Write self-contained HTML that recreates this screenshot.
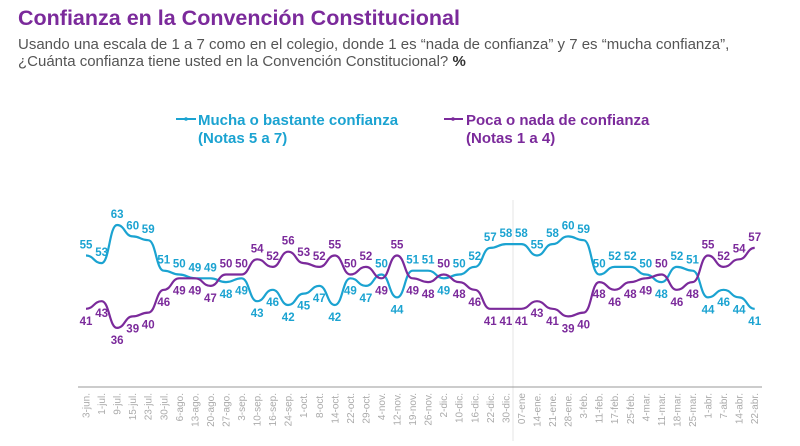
<!DOCTYPE html>
<html><head><meta charset="utf-8"><style>
body{margin:0;background:#fff;width:800px;height:441px;overflow:hidden;font-family:"Liberation Sans",sans-serif}
</style></head><body>
<svg width="800" height="441" xmlns="http://www.w3.org/2000/svg" font-family="Liberation Sans, sans-serif">
<text x="18" y="25" font-size="21.5" font-weight="bold" fill="#7B2A9B">Confianza en la Convención Constitucional</text>
<text x="18" y="49" font-size="15" fill="#555">Usando una escala de 1 a 7 como en el colegio, donde 1 es “nada de confianza” y 7 es “mucha confianza”,</text>
<text x="18" y="66" font-size="15" fill="#555">¿Cuánta confianza tiene usted en la Convención Constitucional? <tspan font-weight="bold" fill="#333">%</tspan></text>

<line x1="176" y1="119" x2="196" y2="119" stroke="#1BA3D1" stroke-width="2"/><circle cx="186" cy="119" r="1.8" fill="#1BA3D1"/>
<text x="198" y="125" font-size="15" font-weight="bold" fill="#1BA3D1">Mucha o bastante confianza</text>
<text x="198" y="143" font-size="15" font-weight="bold" fill="#1BA3D1">(Notas 5 a 7)</text>
<line x1="444" y1="119" x2="463" y2="119" stroke="#7B2A9B" stroke-width="2"/><circle cx="453" cy="119" r="1.8" fill="#7B2A9B"/>
<text x="466" y="125" font-size="15" font-weight="bold" fill="#7B2A9B">Poca o nada de confianza</text>
<text x="466" y="143" font-size="15" font-weight="bold" fill="#7B2A9B">(Notas 1 a 4)</text>

<line x1="513" y1="200" x2="513" y2="441" stroke="#e4e4e4" stroke-width="1"/>
<line x1="78" y1="387" x2="762" y2="387" stroke="#999" stroke-width="1"/>

<path fill="none" stroke="#1BA3D1" stroke-width="2.2" d="M86,255.5 C93.8,255.5 93.8,263.1 101.6,263.1 S109.3,225 117.1,225 S124.9,236.4 132.7,236.4 S140.4,240.2 148.2,240.2 S156,270.7 163.8,270.7 S171.5,274.5 179.3,274.5 S187.1,278.3 194.9,278.3 S202.6,278.3 210.4,278.3 S218.2,282.1 226,282.1 S233.7,278.3 241.5,278.3 S249.3,301.2 257.1,301.2 S264.8,289.8 272.6,289.8 S280.4,305 288.2,305 S295.9,293.6 303.7,293.6 S311.5,285.9 319.3,285.9 S327,305 334.8,305 S342.6,278.3 350.4,278.3 S358.1,285.9 365.9,285.9 S373.7,274.5 381.5,274.5 S389.2,297.4 397,297.4 S404.8,270.7 412.6,270.7 S420.3,270.7 428.1,270.7 S435.9,278.3 443.7,278.3 S451.4,274.5 459.2,274.5 S467,266.9 474.8,266.9 S482.5,247.9 490.3,247.9 S498.1,244.1 505.9,244.1 S513.6,244.1 521.4,244.1 S529.2,255.5 537,255.5 S544.7,244.1 552.5,244.1 S560.3,236.4 568.1,236.4 S575.8,240.2 583.6,240.2 S591.4,274.5 599.2,274.5 S606.9,266.9 614.7,266.9 S622.5,266.9 630.3,266.9 S638,274.5 645.8,274.5 S653.6,282.1 661.4,282.1 S669.1,266.9 676.9,266.9 S684.7,270.7 692.5,270.7 S700.2,297.4 708,297.4 S715.8,289.8 723.6,289.8 S731.3,297.4 739.1,297.4 S746.9,308.8 754.7,308.8"/>
<path fill="none" stroke="#7B2A9B" stroke-width="2.2" d="M86,308.8 C93.8,308.8 93.8,301.2 101.6,301.2 S109.3,327.9 117.1,327.9 S124.9,316.4 132.7,316.4 S140.4,312.6 148.2,312.6 S156,289.8 163.8,289.8 S171.5,278.3 179.3,278.3 S187.1,278.3 194.9,278.3 S202.6,285.9 210.4,285.9 S218.2,274.5 226,274.5 S233.7,274.5 241.5,274.5 S249.3,259.3 257.1,259.3 S264.8,266.9 272.6,266.9 S280.4,251.7 288.2,251.7 S295.9,263.1 303.7,263.1 S311.5,266.9 319.3,266.9 S327,255.5 334.8,255.5 S342.6,274.5 350.4,274.5 S358.1,266.9 365.9,266.9 S373.7,278.3 381.5,278.3 S389.2,255.5 397,255.5 S404.8,278.3 412.6,278.3 S420.3,282.1 428.1,282.1 S435.9,274.5 443.7,274.5 S451.4,282.1 459.2,282.1 S467,289.8 474.8,289.8 S482.5,308.8 490.3,308.8 S498.1,308.8 505.9,308.8 S513.6,308.8 521.4,308.8 S529.2,301.2 537,301.2 S544.7,308.8 552.5,308.8 S560.3,316.4 568.1,316.4 S575.8,312.6 583.6,312.6 S591.4,282.1 599.2,282.1 S606.9,289.8 614.7,289.8 S622.5,282.1 630.3,282.1 S638,278.3 645.8,278.3 S653.6,274.5 661.4,274.5 S669.1,289.8 676.9,289.8 S684.7,282.1 692.5,282.1 S700.2,255.5 708,255.5 S715.8,266.9 723.6,266.9 S731.3,259.3 739.1,259.3 S746.9,247.9 754.7,247.9"/>

<g font-size="11.5" font-weight="bold" text-anchor="middle" fill="#1BA3D1">
<text x="86" y="248.5">55</text><text x="101.6" y="256.1">53</text><text x="117.1" y="218">63</text><text x="132.7" y="229.4">60</text><text x="148.2" y="233.2">59</text><text x="163.8" y="263.7">51</text><text x="179.3" y="267.5">50</text><text x="194.9" y="271.3">49</text><text x="210.4" y="271.3">49</text><text x="226" y="298.1">48</text><text x="241.5" y="294.3">49</text><text x="257.1" y="317.2">43</text><text x="272.6" y="305.8">46</text><text x="288.2" y="321">42</text><text x="303.7" y="309.6">45</text><text x="319.3" y="301.9">47</text><text x="334.8" y="321">42</text><text x="350.4" y="294.3">49</text><text x="365.9" y="301.9">47</text><text x="381.5" y="267.5">50</text><text x="397" y="313.4">44</text><text x="412.6" y="263.7">51</text><text x="428.1" y="263.7">51</text><text x="443.7" y="294.3">49</text><text x="459.2" y="267.5">50</text><text x="474.8" y="259.9">52</text><text x="490.3" y="240.9">57</text><text x="505.9" y="237.1">58</text><text x="521.4" y="237.1">58</text><text x="537" y="248.5">55</text><text x="552.5" y="237.1">58</text><text x="568.1" y="229.4">60</text><text x="583.6" y="233.2">59</text><text x="599.2" y="267.5">50</text><text x="614.7" y="259.9">52</text><text x="630.3" y="259.9">52</text><text x="645.8" y="267.5">50</text><text x="661.4" y="298.1">48</text><text x="676.9" y="259.9">52</text><text x="692.5" y="263.7">51</text><text x="708" y="313.4">44</text><text x="723.6" y="305.8">46</text><text x="739.1" y="313.4">44</text><text x="754.7" y="324.8">41</text>
</g>
<g font-size="11.5" font-weight="bold" text-anchor="middle" fill="#7B2A9B">
<text x="86" y="324.8">41</text><text x="101.6" y="317.2">43</text><text x="117.1" y="343.9">36</text><text x="132.7" y="332.4">39</text><text x="148.2" y="328.6">40</text><text x="163.8" y="305.8">46</text><text x="179.3" y="294.3">49</text><text x="194.9" y="294.3">49</text><text x="210.4" y="301.9">47</text><text x="226" y="267.5">50</text><text x="241.5" y="267.5">50</text><text x="257.1" y="252.3">54</text><text x="272.6" y="259.9">52</text><text x="288.2" y="244.7">56</text><text x="303.7" y="256.1">53</text><text x="319.3" y="259.9">52</text><text x="334.8" y="248.5">55</text><text x="350.4" y="267.5">50</text><text x="365.9" y="259.9">52</text><text x="381.5" y="294.3">49</text><text x="397" y="248.5">55</text><text x="412.6" y="294.3">49</text><text x="428.1" y="298.1">48</text><text x="443.7" y="267.5">50</text><text x="459.2" y="298.1">48</text><text x="474.8" y="305.8">46</text><text x="490.3" y="324.8">41</text><text x="505.9" y="324.8">41</text><text x="521.4" y="324.8">41</text><text x="537" y="317.2">43</text><text x="552.5" y="324.8">41</text><text x="568.1" y="332.4">39</text><text x="583.6" y="328.6">40</text><text x="599.2" y="298.1">48</text><text x="614.7" y="305.8">46</text><text x="630.3" y="298.1">48</text><text x="645.8" y="294.3">49</text><text x="661.4" y="267.5">50</text><text x="676.9" y="305.8">46</text><text x="692.5" y="298.1">48</text><text x="708" y="248.5">55</text><text x="723.6" y="259.9">52</text><text x="739.1" y="252.3">54</text><text x="754.7" y="240.9">57</text>
</g>

<g font-size="10" fill="#aaa" text-anchor="end">
<text transform="translate(89.5,393) rotate(-90)">3-jun.</text>
<text transform="translate(105.1,393) rotate(-90)">1-jul.</text>
<text transform="translate(120.6,393) rotate(-90)">9-jul.</text>
<text transform="translate(136.2,393) rotate(-90)">15-jul.</text>
<text transform="translate(151.7,393) rotate(-90)">23-jul.</text>
<text transform="translate(167.3,393) rotate(-90)">30-jul.</text>
<text transform="translate(182.8,393) rotate(-90)">6-ago.</text>
<text transform="translate(198.4,393) rotate(-90)">13-ago.</text>
<text transform="translate(213.9,393) rotate(-90)">20-ago.</text>
<text transform="translate(229.5,393) rotate(-90)">27-ago.</text>
<text transform="translate(245,393) rotate(-90)">3-sep.</text>
<text transform="translate(260.6,393) rotate(-90)">10-sep.</text>
<text transform="translate(276.1,393) rotate(-90)">16-sep.</text>
<text transform="translate(291.7,393) rotate(-90)">24-sep.</text>
<text transform="translate(307.2,393) rotate(-90)">1-oct.</text>
<text transform="translate(322.8,393) rotate(-90)">8-oct.</text>
<text transform="translate(338.3,393) rotate(-90)">14-oct.</text>
<text transform="translate(353.9,393) rotate(-90)">22-oct.</text>
<text transform="translate(369.4,393) rotate(-90)">29-oct.</text>
<text transform="translate(385,393) rotate(-90)">4-nov.</text>
<text transform="translate(400.5,393) rotate(-90)">12-nov.</text>
<text transform="translate(416.1,393) rotate(-90)">19-nov.</text>
<text transform="translate(431.6,393) rotate(-90)">26-nov.</text>
<text transform="translate(447.2,393) rotate(-90)">2-dic.</text>
<text transform="translate(462.7,393) rotate(-90)">10-dic.</text>
<text transform="translate(478.3,393) rotate(-90)">16-dic.</text>
<text transform="translate(493.8,393) rotate(-90)">22-dic.</text>
<text transform="translate(509.4,393) rotate(-90)">30-dic.</text>
<text transform="translate(524.9,393) rotate(-90)">07-ene</text>
<text transform="translate(540.5,393) rotate(-90)">14-ene.</text>
<text transform="translate(556,393) rotate(-90)">21-ene.</text>
<text transform="translate(571.6,393) rotate(-90)">28-ene.</text>
<text transform="translate(587.1,393) rotate(-90)">3-feb.</text>
<text transform="translate(602.7,393) rotate(-90)">11-feb.</text>
<text transform="translate(618.2,393) rotate(-90)">17-feb.</text>
<text transform="translate(633.8,393) rotate(-90)">25-feb.</text>
<text transform="translate(649.3,393) rotate(-90)">4-mar.</text>
<text transform="translate(664.9,393) rotate(-90)">11-mar.</text>
<text transform="translate(680.4,393) rotate(-90)">18-mar.</text>
<text transform="translate(696,393) rotate(-90)">25-mar.</text>
<text transform="translate(711.5,393) rotate(-90)">1-abr.</text>
<text transform="translate(727.1,393) rotate(-90)">7-abr.</text>
<text transform="translate(742.6,393) rotate(-90)">14-abr.</text>
<text transform="translate(758.2,393) rotate(-90)">22-abr.</text>
</g>
</svg>
</body></html>
